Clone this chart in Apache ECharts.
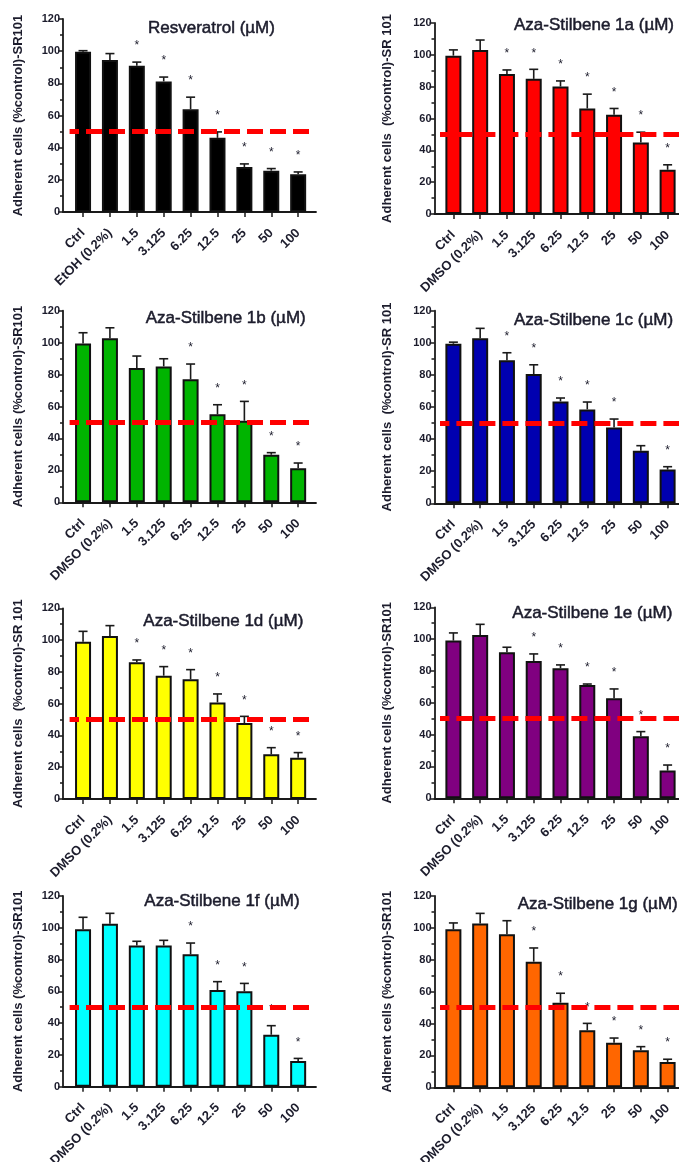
<!DOCTYPE html>
<html><head><meta charset="utf-8">
<script src="https://cdn.jsdelivr.net/npm/echarts@6/dist/echarts.min.js"></script>
<style>html,body{margin:0;padding:0;background:#fff}#c{width:679px;height:1162px}</style>
</head><body><div id="c"></div>
<script>
// ---------- data ----------
const catsRes = ['Ctrl', 'EtOH (0.2%)', '1.5', '3.125', '6.25', '12.5', '25', '50', '100'];
const catsAza = ['Ctrl', 'DMSO (0.2%)', '1.5', '3.125', '6.25', '12.5', '25', '50', '100'];
const yMin = 0, yMax = 120, yInterval = 20;
const threshold = 50;

const resMean = [99.6, 94.5, 90.9, 81.2, 63.9, 46.1, 28.0, 25.7, 23.5];
const resSd   = [0.7, 4.0, 2.3, 2.7, 7.5, 3.7, 1.9, 1.3, 1.4];
const resSig  = [0, 0, 1, 1, 1, 1, 1, 1, 1];

const a1Mean = [99.5, 103.1, 88.0, 84.9, 80.1, 66.3, 62.3, 45.0, 27.8];
const a1Sd   = [3.6, 6.2, 2.5, 6.0, 3.5, 9.0, 4.0, 6.4, 3.1];
const a1Sig  = [0, 0, 1, 1, 1, 1, 1, 1, 1];

const b1Mean = [99.5, 102.7, 84.1, 85.1, 77.0, 55.1, 51.1, 29.8, 21.3];
const b1Sd   = [6.7, 6.6, 7.5, 4.8, 9.6, 6.0, 12.1, 1.3, 3.3];
const b1Sig  = [0, 0, 0, 0, 1, 1, 1, 1, 1];

const c1Mean = [99.4, 102.8, 89.1, 80.5, 63.5, 58.5, 47.3, 32.8, 21.0];
const c1Sd   = [1.0, 6.2, 4.7, 5.8, 2.1, 4.6, 5.2, 3.1, 1.8];
const c1Sig  = [0, 0, 1, 1, 1, 1, 1, 0, 1];

const d1Mean = [99.0, 102.6, 86.0, 77.6, 75.3, 60.8, 47.8, 28.1, 26.0];
const d1Sd   = [6.5, 6.5, 1.5, 5.7, 6.1, 5.3, 4.2, 4.2, 3.2];
const d1Sig  = [0, 0, 1, 1, 1, 1, 1, 1, 1];

const e1Mean = [99.1, 102.6, 91.7, 86.3, 81.7, 71.2, 62.8, 39.0, 17.4];
const e1Sd   = [4.8, 6.7, 3.2, 4.4, 2.1, 0.6, 5.9, 2.9, 3.5];
const e1Sig  = [0, 0, 0, 1, 1, 1, 1, 1, 1];

const f1Mean = [99.0, 102.6, 88.9, 88.9, 83.3, 60.8, 60.0, 32.7, 16.2];
const f1Sd   = [7.6, 6.5, 2.6, 3.2, 7.1, 5.3, 5.0, 5.7, 1.6];
const f1Sig  = [0, 0, 0, 0, 1, 1, 1, 1, 1];

const g1Mean = [99.1, 102.7, 96.0, 78.8, 53.1, 35.8, 28.0, 23.2, 15.9];
const g1Sd   = [4.0, 6.4, 8.5, 8.6, 5.9, 4.3, 2.9, 2.3, 1.7];
const g1Sig  = [0, 0, 0, 1, 1, 1, 1, 1, 1];

const panels = [
  { title: 'Resveratrol (µM)',      yName: 'Adherent cells (%control)-SR101',   cats: catsRes, mean: resMean, sd: resSd, sig: resSig, color: '#000000' },
  { title: 'Aza-Stilbene 1a (µM)',  yName: 'Adherent cells  (%control)-SR 101', cats: catsAza, mean: a1Mean, sd: a1Sd, sig: a1Sig, color: '#ff0000' },
  { title: 'Aza-Stilbene 1b (µM)',  yName: 'Adherent cells (%control)-SR101',   cats: catsAza, mean: b1Mean, sd: b1Sd, sig: b1Sig, color: '#00b400' },
  { title: 'Aza-Stilbene 1c (µM)',  yName: 'Adherent cells  (%control)-SR 101', cats: catsAza, mean: c1Mean, sd: c1Sd, sig: c1Sig, color: '#0000b0' },
  { title: 'Aza-Stilbene 1d (µM)',  yName: 'Adherent cells  (%control)-SR 101', cats: catsAza, mean: d1Mean, sd: d1Sd, sig: d1Sig, color: '#ffff00' },
  { title: 'Aza-Stilbene 1e (µM)',  yName: 'Adherent cells (%control)-SR101',   cats: catsAza, mean: e1Mean, sd: e1Sd, sig: e1Sig, color: '#800080' },
  { title: 'Aza-Stilbene 1f (µM)',  yName: 'Adherent cells (%control)-SR101',   cats: catsAza, mean: f1Mean, sd: f1Sd, sig: f1Sig, color: '#00ffff' },
  { title: 'Aza-Stilbene 1g (µM)',  yName: 'Adherent cells (%control)-SR101',   cats: catsAza, mean: g1Mean, sd: g1Sd, sig: g1Sig, color: '#ff6600' }
];

// ---------- layout ----------
const layout = [
  { left: 69.6, top: 19,    height: 193,   width: 242, ax: 63,    aw: 253, gap: 38, tl: 148,   tt: 19.8 },
  { left: 440,  top: 23,    height: 191,   width: 241, ax: 434.5, aw: 250, gap: 41, tl: 514,   tt: 16.5 },
  { left: 69.6, top: 310.7, height: 191.6, width: 242, ax: 63,    aw: 253, gap: 38, tl: 145.7, tt: 309.5 },
  { left: 440,  top: 310.7, height: 192.6, width: 241, ax: 434.5, aw: 250, gap: 41, tl: 514,   tt: 311.5 },
  { left: 69.6, top: 608.3, height: 190.7, width: 242, ax: 63,    aw: 253, gap: 38, tl: 143.3, tt: 613 },
  { left: 440,  top: 607.3, height: 191,   width: 241, ax: 434.5, aw: 250, gap: 41, tl: 512.3, tt: 604.5 },
  { left: 69.6, top: 896,   height: 190.7, width: 242, ax: 63,    aw: 253, gap: 38, tl: 144.3, tt: 893 },
  { left: 440,  top: 896,   height: 191.3, width: 241, ax: 434.5, aw: 250, gap: 41, tl: 517.7, tt: 895.5 }
];

const FONT = "'Liberation Sans', Arial, sans-serif";
const TXT = '#1c1c2c';
const AX = '#1a1a1a';
const STAR_GAP = 12;

function renderErr(params, api) {
  const i = api.value(0), m = api.value(1), s = api.value(2), sig = api.value(3);
  const base = api.coord([i, m]);
  const top = api.coord([i, m + s]);
  const star = api.coord([i, m + s + STAR_GAP]);
  const children = [
    { type: 'line', shape: { x1: base[0], y1: base[1], x2: top[0], y2: top[1] }, style: { stroke: AX, lineWidth: 1.6 } },
    { type: 'line', shape: { x1: top[0] - 4.5, y1: top[1], x2: top[0] + 4.5, y2: top[1] }, style: { stroke: AX, lineWidth: 1.6 } }
  ];
  if (sig) {
    children.push({ type: 'text', x: star[0], y: star[1] + 3,
      style: { text: '*', fill: TXT, font: '12px ' + FONT, align: 'center', verticalAlign: 'middle' } });
  }
  return { type: 'group', children };
}

const option = { animation: false, backgroundColor: '#fff', title: [], grid: [], xAxis: [], yAxis: [], series: [] };

panels.forEach((p, k) => {
  const L = layout[k];
  const g = k * 2;
  option.title.push({ text: p.title, left: L.tl, top: L.tt, padding: 0,
    textStyle: { fontFamily: FONT, fontSize: 17, fontWeight: 'normal', color: TXT, textBorderColor: TXT, textBorderWidth: 0.5 } });
  option.grid.push({ left: L.left, top: L.top, width: L.width, height: L.height, containLabel: false, outerBoundsMode: 'none' });
  option.grid.push({ left: L.ax, top: L.top, width: L.aw, height: L.height, containLabel: false, outerBoundsMode: 'none' });

  option.xAxis.push({
    type: 'category', gridIndex: g, data: p.cats, boundaryGap: true,
    axisLine: { show: false },
    axisTick: { show: true, alignWithLabel: true, length: 5, lineStyle: { color: AX, width: 1.5 } },
    axisLabel: { interval: 0, rotate: 45, margin: 19, fontFamily: FONT, fontSize: 13, fontWeight: 'bold', color: TXT },
    splitLine: { show: false }
  });
  option.xAxis.push({
    type: 'value', gridIndex: g + 1, min: 0, max: 1,
    axisLine: { show: true, onZero: false, lineStyle: { color: AX, width: 1.8 } },
    axisTick: { show: false }, axisLabel: { show: false }, splitLine: { show: false }
  });
  option.yAxis.push({
    type: 'value', gridIndex: g, min: yMin, max: yMax, interval: yInterval, offset: L.left - L.ax,
    name: p.yName, nameLocation: 'middle', nameGap: L.gap,
    nameTextStyle: { fontFamily: FONT, fontSize: 13, fontWeight: 'bold', color: TXT },
    axisLine: { show: true, lineStyle: { color: AX, width: 1.8 } },
    axisTick: { show: true, length: 5, lineStyle: { color: AX, width: 1.5 } },
    minorTick: { show: true, splitNumber: 2, length: 3, lineStyle: { color: AX, width: 1.5 } },
    axisLabel: { margin: 3, fontFamily: FONT, fontSize: 11, fontWeight: 'bold', color: TXT },
    splitLine: { show: false }
  });
  option.yAxis.push({ type: 'value', gridIndex: g + 1, min: 0, max: 1, show: false });

  option.series.push({
    type: 'bar', xAxisIndex: g, yAxisIndex: g, data: p.mean, barWidth: 16,
    itemStyle: { color: p.color, borderColor: '#111', borderWidth: 2 }, z: 2
  });
  option.series.push({
    type: 'custom', xAxisIndex: g, yAxisIndex: g, z: 3,
    data: p.mean.map((m, i) => [i, m, p.sd[i], p.sig[i]]),
    renderItem: renderErr,
    markLine: {
      silent: true, symbol: ['none', 'none'], label: { show: false },
      lineStyle: { color: '#ff0000', width: 5, type: [16, 7], dashOffset: 6.6 },
      data: [{ yAxis: threshold }]
    }
  });
});

const chart = echarts.init(document.getElementById('c'));
chart.setOption(option);
</script></body></html>
